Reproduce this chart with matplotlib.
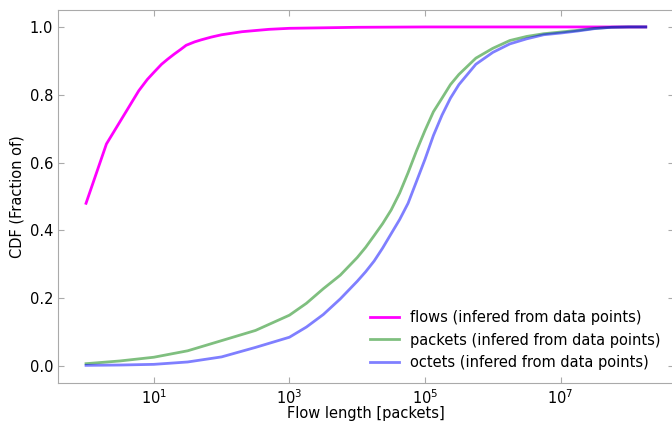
import numpy as np
import matplotlib
matplotlib.use('Agg')
from matplotlib import pyplot as plt

# flows CDF
flow_len = [1, 2, 6, 8, 10, 13, 16, 20, 25, 30, 40, 50, 70, 100, 200, 500, 1e3,
            1e4, 1e5, 1e6, 1e7, 1.8e8]
flows_cdf = [0.48, 0.655, 0.812, 0.845, 0.866, 0.89, 0.905, 0.92, 0.934, 0.946, 0.956,
             0.962, 0.970, 0.977, 0.986, 0.993, 0.996, 0.999, 1.0, 1.0, 1.0, 1.0]

# packets / octets CDF
len_grid = [1, 3.16, 10, 31.6, 100, 316, 1e3, 1.78e3, 3.16e3, 5.62e3, 1e4, 1.33e4,
            1.78e4, 2.37e4, 3.16e4, 4.22e4, 5.62e4, 7.5e4, 1e5, 1.33e5, 1.78e5, 2.37e5,
            3.16e5, 5.62e5, 1e6, 1.78e6, 3.16e6, 5.62e6, 1e7, 1.78e7, 3.16e7, 5.62e7,
            1e8, 1.8e8]
packets_cdf = [0.007, 0.015, 0.026, 0.045, 0.075, 0.105, 0.150, 0.185, 0.228, 0.268,
               0.32, 0.35, 0.385, 0.42, 0.46, 0.51, 0.57, 0.635, 0.695, 0.75, 0.79, 0.83,
               0.86, 0.908, 0.937, 0.96, 0.972, 0.98, 0.985, 0.99, 0.996, 0.999, 1.0, 1.0]
octets_cdf = [0.002, 0.003, 0.005, 0.012, 0.027, 0.055, 0.085, 0.115, 0.152, 0.198,
              0.25, 0.278, 0.31, 0.348, 0.39, 0.432, 0.48, 0.545, 0.61, 0.68, 0.74, 0.79,
              0.83, 0.89, 0.925, 0.95, 0.965, 0.977, 0.982, 0.988, 0.995, 0.999, 1.0, 1.0]

fig = plt.figure(figsize=(6.72, 4.21), dpi=100)
ax = fig.add_axes([58/672, 38/421, 616/672, 373/421])

ax.plot(flow_len, flows_cdf, color='#ff00ff', lw=2, label='flows (infered from data points)')
ax.plot(len_grid, packets_cdf, color='g', alpha=0.5, lw=2, label='packets (infered from data points)')
ax.plot(len_grid, octets_cdf, color='b', alpha=0.5, lw=2, label='octets (infered from data points)')

ax.set_xscale('log')
ax.set_xticks([1e1, 1e3, 1e5, 1e7])
ax.minorticks_off()
ax.set_yticks([0.0, 0.2, 0.4, 0.6, 0.8, 1.0])
ax.set_xlim(0.386, 4.7e8)
ax.set_ylim(-0.05, 1.05)

for s in ax.spines.values():
    s.set_color('#aaaaaa')
ax.tick_params(direction='in', color='#aaaaaa', length=4, labelsize=10.5,
               top=True, right=True)

ax.set_xlabel('Flow length [packets]', fontsize=10.5)
ax.xaxis.set_label_coords(0.5, -0.062)
ax.set_ylabel('CDF (Fraction of)', fontsize=10.5)
ax.legend(loc='lower right', frameon=False, fontsize=10.5)

fig.savefig('out.png', dpi=100)
